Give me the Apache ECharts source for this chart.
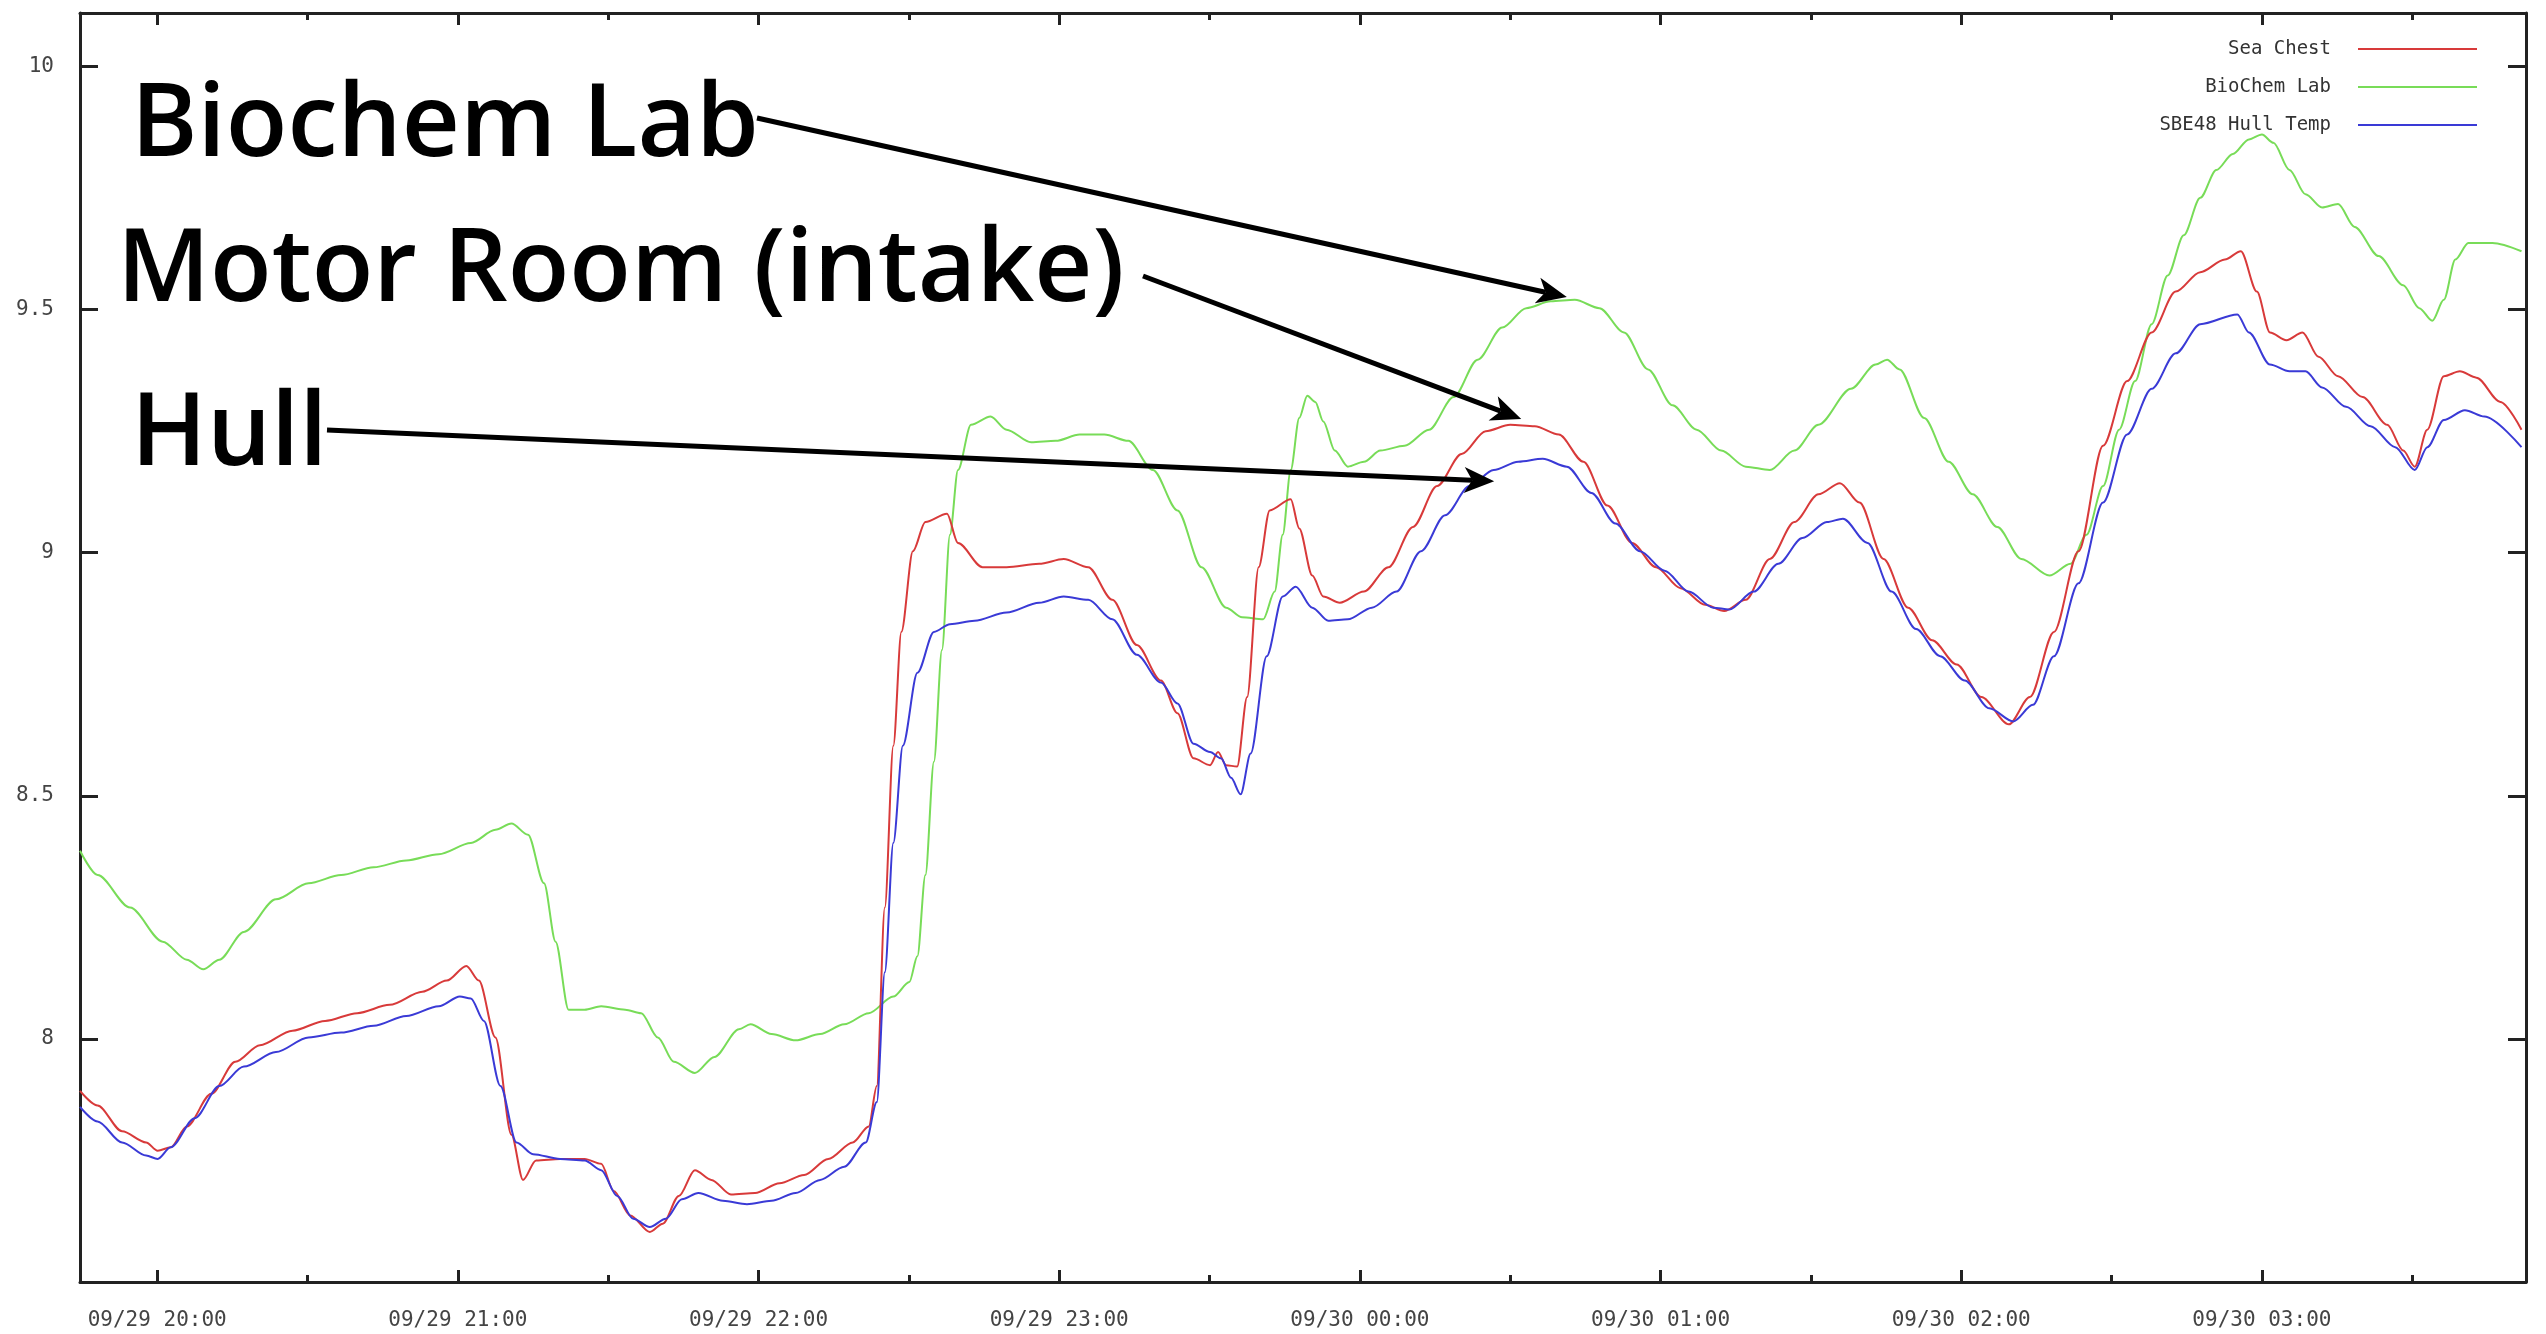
<!DOCTYPE html>
<html><head><meta charset="utf-8">
<script src="https://cdn.jsdelivr.net/npm/echarts@6/dist/echarts.min.js"></script>
<style>html,body{margin:0;padding:0;background:#fff}#c{width:2546px;height:1334px}</style>
</head><body><div id="c"></div>
<script>
// ---- axis ticks (minutes after 09/29 20:00) ----
const xTickMinutes = [0, 60, 120, 180, 240, 300, 360, 420];
const xTickLabels = ['09/29 20:00', '09/29 21:00', '09/29 22:00', '09/29 23:00',
                     '09/30 00:00', '09/30 01:00', '09/30 02:00', '09/30 03:00'];
const xMinorMinutes = [30, 90, 150, 210, 270, 330, 390, 450];
const yTickValues = [8, 8.5, 9, 9.5, 10];
const seriesNames = ['Sea Chest', 'BioChem Lab', 'SBE48 Hull Temp'];

// ---- Sea Chest (red) ----
const seaChestMinutes = [-15.4,-11.9,-7.0,-2.2,0.1,2.7,5.9,10.8,15.6,20.5,27.0,33.5,39.9,46.4,52.9,57.8,61.7,64.2,67.5,70.7,73.0,75.6,80.4,85.3,88.6,91.1,94.4,98.3,100.9,104.1,107.3,110.6,114.5,119.3,124.2,129.1,133.9,138.8,142.0,143.6,145.2,146.9,148.5,150.8,153.3,157.6,159.8,164.7,169.5,176.0,180.9,185.8,190.6,195.5,200.3,203.6,206.8,210.1,211.7,213.3,215.5,217.5,219.8,222.0,226.2,227.9,230.5,232.7,236.0,240.8,245.7,250.6,255.4,260.3,265.1,270.0,274.9,279.7,284.6,289.4,294.3,299.1,304.0,308.9,312.7,317.0,321.8,326.7,331.5,335.8,339.7,344.5,349.4,354.2,359.1,364.0,369.5,373.7,378.5,383.4,388.3,393.1,398.0,402.8,407.7,412.6,415.8,419.0,421.6,424.9,428.1,431.3,435.2,440.1,445.0,448.2,450.5,453.0,456.3,459.5,462.8,467.6,471.8];
const seaChestValues = [7.893,7.863,7.81,7.787,7.77,7.777,7.82,7.887,7.953,7.987,8.017,8.037,8.053,8.07,8.097,8.12,8.15,8.12,8.003,7.803,7.71,7.75,7.753,7.753,7.743,7.687,7.637,7.603,7.62,7.677,7.73,7.71,7.68,7.683,7.703,7.72,7.753,7.787,7.82,7.903,8.27,8.603,8.837,9.003,9.063,9.08,9.02,8.97,8.97,8.977,8.987,8.97,8.903,8.81,8.737,8.67,8.577,8.563,8.59,8.563,8.56,8.703,8.97,9.087,9.11,9.05,8.953,8.91,8.897,8.92,8.97,9.053,9.137,9.203,9.25,9.263,9.26,9.243,9.187,9.097,9.02,8.97,8.927,8.893,8.88,8.903,8.987,9.063,9.12,9.143,9.103,8.987,8.887,8.82,8.77,8.703,8.647,8.703,8.837,9.003,9.22,9.353,9.453,9.537,9.577,9.603,9.62,9.537,9.453,9.437,9.453,9.403,9.363,9.32,9.263,9.21,9.177,9.253,9.363,9.373,9.36,9.31,9.253];

// ---- BioChem Lab (green) ----
const bioChemMinutes = [-15.4,-11.9,-5.4,1.1,5.9,9.2,12.4,17.3,23.7,30.2,36.7,43.2,49.7,56.2,62.6,67.5,70.7,74.0,77.2,79.5,82.1,85.3,88.6,93.4,96.6,99.9,103.1,107.3,111.2,116.1,118.4,122.6,127.4,132.3,137.1,142.0,146.9,150.1,151.7,153.3,155.0,156.6,158.2,159.8,162.4,166.3,169.5,174.4,179.3,184.1,189.0,193.8,198.7,203.6,208.4,213.3,216.5,220.7,223.0,224.6,226.2,227.9,229.5,231.1,232.7,235.0,237.6,240.8,244.1,248.9,253.8,258.7,263.5,268.4,273.2,278.1,282.9,287.8,292.7,297.5,302.4,307.2,312.1,317.0,321.8,326.7,331.5,338.0,342.9,345.2,347.7,352.6,357.5,362.3,367.2,372.0,377.6,381.8,385.0,388.3,391.5,394.7,398.0,401.2,404.4,407.7,410.9,414.2,417.4,420.0,422.3,425.5,428.7,432.0,435.2,438.5,443.3,448.2,451.4,454.0,456.3,458.6,461.2,466.0,471.8];
const bioChemValues = [8.387,8.337,8.27,8.20,8.163,8.143,8.163,8.22,8.287,8.32,8.337,8.353,8.367,8.38,8.403,8.43,8.443,8.42,8.32,8.20,8.06,8.06,8.067,8.06,8.053,8.003,7.953,7.93,7.963,8.02,8.03,8.01,7.997,8.01,8.03,8.053,8.087,8.117,8.17,8.337,8.57,8.80,9.037,9.17,9.263,9.28,9.253,9.227,9.23,9.243,9.243,9.23,9.17,9.087,8.97,8.887,8.867,8.863,8.92,9.037,9.17,9.277,9.323,9.31,9.27,9.21,9.177,9.187,9.21,9.22,9.253,9.32,9.397,9.463,9.503,9.517,9.52,9.503,9.453,9.377,9.303,9.253,9.21,9.177,9.17,9.21,9.263,9.337,9.387,9.397,9.377,9.277,9.187,9.12,9.053,8.987,8.953,8.977,9.037,9.137,9.253,9.353,9.47,9.57,9.653,9.73,9.787,9.82,9.85,9.86,9.843,9.787,9.737,9.71,9.717,9.67,9.61,9.55,9.503,9.477,9.52,9.603,9.637,9.637,9.62];

// ---- SBE48 Hull Temp (blue) ----
const hullMinutes = [-15.4,-11.9,-7.0,-2.2,0.1,2.7,7.5,12.4,17.3,23.7,30.2,36.7,43.2,49.7,56.2,60.4,62.6,65.2,68.5,71.7,75.0,80.4,85.3,88.6,91.8,95.0,98.3,101.5,104.7,108.0,112.9,117.7,122.6,127.4,132.3,137.1,141.4,143.6,145.2,146.9,148.8,151.7,155.0,158.2,163.1,169.5,176.0,180.9,185.8,190.6,195.5,200.3,203.6,206.8,210.1,212.3,214.3,216.2,218.2,221.4,224.6,227.2,230.5,233.7,237.6,242.4,247.3,252.2,257.0,261.9,266.7,271.6,276.5,281.3,286.2,291.0,295.9,300.8,305.6,310.5,313.7,318.6,323.5,328.3,333.2,336.4,341.3,346.1,351.0,355.8,360.7,365.6,370.4,374.3,378.5,383.4,388.3,393.1,398.0,402.8,407.7,415.1,417.4,421.6,425.5,428.7,432.0,436.8,441.7,446.6,450.5,453.0,456.3,460.5,464.4,471.8];
const hullValues = [7.86,7.83,7.787,7.76,7.753,7.777,7.837,7.903,7.943,7.973,8.003,8.013,8.027,8.047,8.067,8.087,8.083,8.037,7.903,7.787,7.763,7.753,7.75,7.73,7.677,7.63,7.613,7.63,7.67,7.683,7.667,7.66,7.667,7.683,7.71,7.737,7.787,7.87,8.137,8.403,8.603,8.753,8.837,8.853,8.86,8.877,8.897,8.91,8.903,8.863,8.79,8.733,8.69,8.607,8.59,8.577,8.537,8.503,8.587,8.787,8.91,8.93,8.887,8.86,8.863,8.887,8.92,9.003,9.077,9.137,9.17,9.187,9.193,9.177,9.123,9.06,9.003,8.963,8.92,8.887,8.883,8.92,8.977,9.03,9.063,9.07,9.02,8.92,8.843,8.787,8.737,8.68,8.653,8.687,8.787,8.937,9.103,9.243,9.337,9.41,9.47,9.49,9.453,9.387,9.373,9.373,9.34,9.30,9.26,9.217,9.17,9.217,9.273,9.293,9.28,9.217];

// ---- annotations ----
const annotationTexts = ['Biochem Lab', 'Motor Room (intake)', 'Hull'];
const annotationTips = [[281.3, 9.526], [272.2, 9.275], [266.8, 9.147]]; // data coords pointed at

const X_MIN = -15.4, X_MAX = 472.7, Y_MIN = 7.5, Y_MAX = 10.11;
const zip = (a, b) => a.map((m, i) => [m, b[i]]);

const chart = echarts.init(document.getElementById('c'), null, {renderer: 'canvas'});
const frame = {color: '#222', width: 3};
const tickFont = {fontFamily: 'DejaVu Sans Mono', fontSize: 21, color: '#444'};
const xBase = {type: 'value', min: X_MIN, max: X_MAX, splitLine: {show: false}, axisPointer: {show: false}};

chart.setOption({
  animation: false,
  backgroundColor: '#fff',
  grid: {left: 80, right: 20, top: 13, bottom: 52, containLabel: false},
  legend: {
    orient: 'vertical', right: 64, top: 34, align: 'right',
    icon: 'rect', itemWidth: 119, itemHeight: 2, itemGap: 18,
    data: seriesNames,
    textStyle: {fontFamily: 'DejaVu Sans Mono', fontSize: 19, color: '#333', lineHeight: 20, padding: [0, 22, 0, 0]},
    selectedMode: false
  },
  xAxis: [
    Object.assign({}, xBase, {position: 'bottom',
      axisLine: {show: true, onZero: false, lineStyle: frame},
      axisTick: {show: true, inside: true, length: 12, lineStyle: frame, customValues: xTickMinutes},
      axisLabel: Object.assign({customValues: xTickMinutes, margin: 28,
        formatter: v => xTickLabels[xTickMinutes.indexOf(Math.round(v))] || ''}, tickFont)}),
    Object.assign({}, xBase, {position: 'bottom',
      axisLine: {show: false, onZero: false},
      axisTick: {show: true, inside: true, length: 7, lineStyle: frame, customValues: xMinorMinutes},
      axisLabel: {show: false}}),
    Object.assign({}, xBase, {position: 'top',
      axisLine: {show: true, onZero: false, lineStyle: frame},
      axisTick: {show: true, inside: true, length: 12, lineStyle: frame, customValues: xTickMinutes},
      axisLabel: {show: false}}),
    Object.assign({}, xBase, {position: 'top',
      axisLine: {show: false, onZero: false},
      axisTick: {show: true, inside: true, length: 7, lineStyle: frame, customValues: xMinorMinutes},
      axisLabel: {show: false}})
  ],
  yAxis: [
    {type: 'value', min: Y_MIN, max: Y_MAX, position: 'left', splitLine: {show: false},
      axisLine: {show: true, onZero: false, lineStyle: frame},
      axisTick: {show: true, inside: true, length: 18, lineStyle: frame, customValues: yTickValues},
      axisLabel: Object.assign({customValues: yTickValues, margin: 26, formatter: v => String(v)}, tickFont)},
    {type: 'value', min: Y_MIN, max: Y_MAX, position: 'right', splitLine: {show: false},
      axisLine: {show: true, onZero: false, lineStyle: frame},
      axisTick: {show: true, inside: true, length: 18, lineStyle: frame, customValues: yTickValues},
      axisLabel: {show: false}}
  ],
  series: [
    {name: seriesNames[0], type: 'line', data: zip(seaChestMinutes, seaChestValues), color: '#d83a3a',
      showSymbol: false, symbol: 'none', smooth: 0.3, smoothMonotone: 'x', lineStyle: {width: 2, color: '#d83a3a'}, z: 3},
    {name: seriesNames[1], type: 'line', data: zip(bioChemMinutes, bioChemValues), color: '#78dc58',
      showSymbol: false, symbol: 'none', smooth: 0.3, smoothMonotone: 'x', lineStyle: {width: 2, color: '#78dc58'}, z: 2},
    {name: seriesNames[2], type: 'line', data: zip(hullMinutes, hullValues), color: '#3a3ad6',
      showSymbol: false, symbol: 'none', smooth: 0.3, smoothMonotone: 'x', lineStyle: {width: 2, color: '#3a3ad6'}, z: 4}
  ]
});

// annotation text + arrows (tips located through the chart's own scales)
const textPos = [[131, 127], [117, 272], [131, 436]];
const arrowStarts = [[757, 118], [1143, 276], [327, 430]];
const graphics = [];
const annFont = '600 101px "Open Sans"';
annotationTexts.forEach((t, i) => {
  graphics.push({type: 'text', z: 100, style: {text: t, x: textPos[i][0], y: textPos[i][1],
    font: annFont, fill: '#000', align: 'left', verticalAlign: 'middle'}});
  const tip = chart.convertToPixel({xAxisIndex: 0, yAxisIndex: 0}, annotationTips[i]);
  const s = arrowStarts[i];
  const dx = tip[0] - s[0], dy = tip[1] - s[1], len = Math.hypot(dx, dy);
  const ux = dx / len, uy = dy / len, nx = -uy, ny = ux;
  const L = 30, W = 13, notch = 8;
  const back = [tip[0] - ux * (L - notch), tip[1] - uy * (L - notch)];
  graphics.push({type: 'line', z: 100, shape: {x1: s[0], y1: s[1], x2: back[0], y2: back[1]},
    style: {stroke: '#000', lineWidth: 5}});
  graphics.push({type: 'polygon', z: 101, shape: {points: [
    tip,
    [tip[0] - ux * L + nx * W, tip[1] - uy * L + ny * W],
    back,
    [tip[0] - ux * L - nx * W, tip[1] - uy * L - ny * W]
  ]}, style: {fill: '#000'}});
});
chart.setOption({graphic: graphics});
</script></body></html>
